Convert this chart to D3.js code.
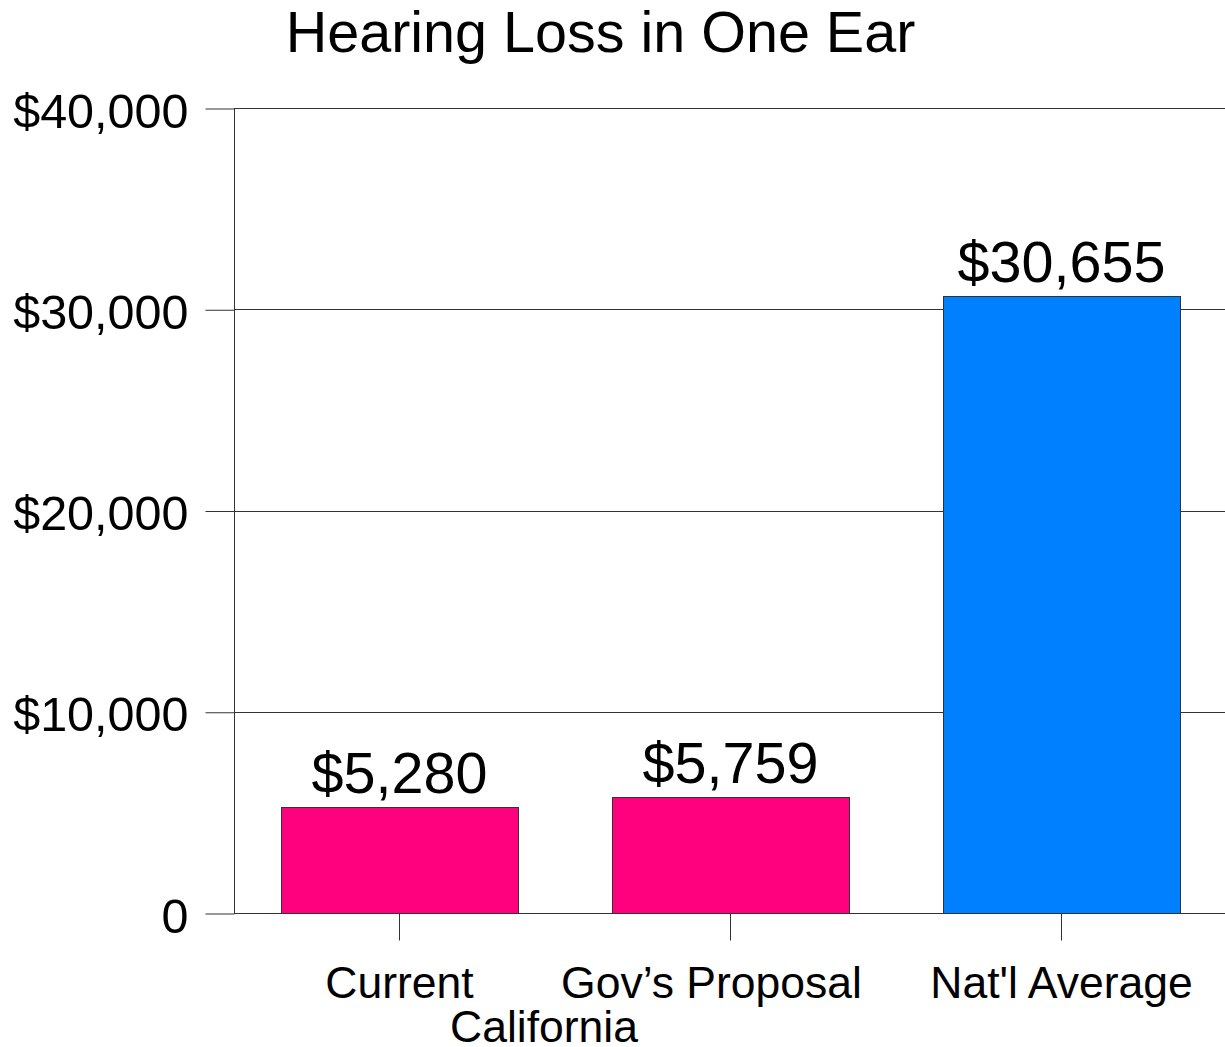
<!DOCTYPE html>
<html>
<head>
<meta charset="utf-8">
<script src="https://cdn.jsdelivr.net/npm/d3@7"></script>
<style>
  body { margin: 0; background: #fff; }
  text { font-family: "Liberation Sans", Arial, sans-serif; fill: #000; }
</style>
</head>
<body>
<div class="chart"></div>
<script>
// chart data
var categories = ["Current", "Gov\u2019s Proposal", "Nat'l Average"];
var values = [5280, 5759, 30655];
var valueLabels = ["$5,280", "$5,759", "$30,655"];
var barColors = ["#FF007F", "#FF007F", "#0080FF"];
var yTicks = [0, 10000, 20000, 30000, 40000];
var yTickLabels = ["0", "$10,000", "$20,000", "$30,000", "$40,000"];
var subLabel = "California";

var width = 1225;
var height = 1047;
var plotLeft = 234, plotRight = 1227, plotTop = 108, plotBottom = 913;

var x = d3.scaleBand().domain(categories).range([plotLeft, plotRight])
    .paddingInner(0.284).paddingOuter(0.142);
var y = d3.scaleLinear().domain([0, 40000]).range([plotBottom, plotTop]);

function build_svg(c) {
    return c.append("svg").attr("width", width).attr("height", height);
}

function build_grid(s) {
    s.append("g").selectAll("line")
        .data(yTicks)
        .enter().append("line")
        .attr("x1", plotLeft).attr("x2", 1225)
        .attr("y1", function(d) { return Math.round(y(d)) + 0.5; })
        .attr("y2", function(d) { return Math.round(y(d)) + 0.5; })
        .attr("stroke", "#333").attr("stroke-width", 1);
}

function build_y_axis(s) {
    var yAxis = d3.axisLeft(y).tickValues(yTicks).tickSize(29).tickPadding(17)
        .tickFormat(function(d, i) { return yTickLabels[i]; });
    var g = s.append("g").attr("transform", "translate(" + (plotLeft + 0.5) + ",0.5)").call(yAxis);
    g.select(".domain").remove();
    g.selectAll(".tick line").attr("stroke", "#333");
    g.selectAll(".tick text")
        .attr("font-size", 48.5)
        .attr("font-family", "Liberation Sans, Arial, sans-serif")
        .attr("fill", "#000")
        .attr("dy", 18.5);
    s.append("line")
        .attr("x1", plotLeft + 0.5).attr("x2", plotLeft + 0.5)
        .attr("y1", plotTop).attr("y2", plotBottom + 1)
        .attr("stroke", "#333");
}

function build_x_axis(s) {
    var xAxis = d3.axisBottom(x).tickSize(27).tickFormat("");
    var g = s.append("g").attr("transform", "translate(0," + (plotBottom + 0.5) + ")").call(xAxis);
    g.select(".domain").remove();
    g.selectAll(".tick line").attr("stroke", "#333");

    var shift = [0, -19, 0];
    s.append("g").selectAll("text")
        .data(categories)
        .enter().append("text")
        .attr("x", function(d, i) { return x(d) + x.bandwidth() / 2 + shift[i]; })
        .attr("y", 998)
        .attr("text-anchor", "middle")
        .attr("font-size", 44.5)
        .text(function(d) { return d; });

    s.append("text")
        .attr("x", (x(categories[0]) + x(categories[1]) + x.bandwidth()) / 2 - 21)
        .attr("y", 1042)
        .attr("text-anchor", "middle")
        .attr("font-size", 44.5)
        .text(subLabel);
}

function build_bars(s) {
    s.selectAll(".bar")
        .data(values)
        .enter().append("rect")
        .attr("class", "bar")
        .attr("x", function(d, i) { return Math.round(x(categories[i])) + 0.5; })
        .attr("y", function(d) { return Math.round(y(d)) + 0.5; })
        .attr("width", Math.round(x.bandwidth()))
        .attr("height", function(d) { return Math.round(plotBottom - y(d)); })
        .attr("fill", function(d, i) { return barColors[i]; })
        .attr("stroke", "#333").attr("stroke-width", 1);

    s.selectAll(".val")
        .data(values)
        .enter().append("text")
        .attr("class", "val")
        .attr("x", function(d, i) { return x(categories[i]) + x.bandwidth() / 2; })
        .attr("y", function(d) { return y(d) - 14; })
        .attr("text-anchor", "middle")
        .attr("font-size", 57.5)
        .text(function(d, i) { return valueLabels[i]; });
}

function main() {
    var svg = build_svg(d3.select(".chart"));
    svg.append("text")
        .attr("x", 600.5).attr("y", 52)
        .attr("text-anchor", "middle")
        .attr("font-size", 57.5)
        .text("Hearing Loss in One Ear");
    build_grid(svg);
    build_bars(svg);
    build_y_axis(svg);
    build_x_axis(svg);
}

main();
</script>
</body>
</html>
